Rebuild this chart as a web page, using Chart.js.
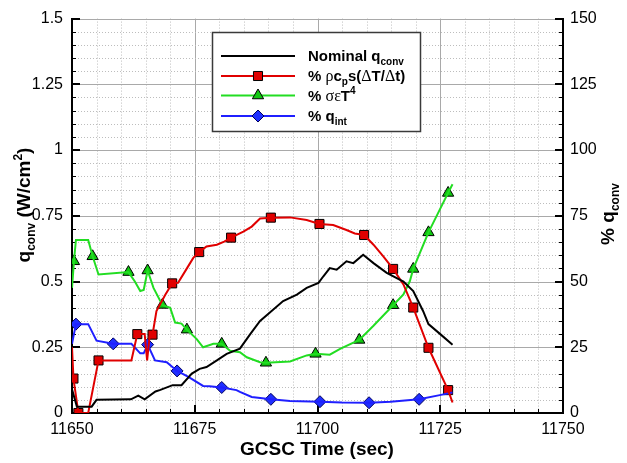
<!DOCTYPE html>
<html>
<head>
<meta charset="utf-8">
<script src="https://cdn.jsdelivr.net/npm/chart.js@4.4.1/dist/chart.umd.min.js"></script>
<style>
  html, body { margin: 0; padding: 0; background: #fff; }
  #wrap { width: 627px; height: 463px; }
</style>
</head>
<body>
<div id="wrap"><canvas id="chartHeat" width="627" height="463"></canvas></div>
<script>
    // Nominal convective heat flux (W/cm^2) vs GCSC time (sec)
    const nominalTime = [11650, 11651, 11654, 11655, 11662, 11663.5, 11664.8, 11667, 11668, 11670.5, 11672.3,
        11674.4, 11676, 11677.4, 11679.5, 11681.5, 11684.2, 11686.3, 11688.3, 11690.3, 11693, 11695.8,
        11697.8, 11700.2, 11701.2, 11702.5, 11703.9, 11705.9, 11707.3, 11709.3, 11711.4, 11714.1, 11717.5,
        11719.5, 11721.5, 11722.6, 11725, 11727.5];
    const nominalQ = [0.09, 0.024, 0.024, 0.05, 0.052, 0.066, 0.052, 0.082, 0.088, 0.106, 0.106,
        0.15, 0.168, 0.175, 0.2, 0.225, 0.245, 0.3, 0.35, 0.382, 0.426, 0.45,
        0.476, 0.495, 0.52, 0.551, 0.545, 0.577, 0.57, 0.602, 0.57, 0.533, 0.5,
        0.464, 0.388, 0.338, 0.3, 0.26];

    // % rho*cp*s*(dT/dt)
    const storageTime = [11650, 11650.3, 11651.3, 11653.3, 11655.4, 11662.1, 11663.3, 11664.8, 11665.3, 11665.8,
        11666.4, 11667.2, 11669, 11670.4, 11671.6, 11673.4, 11674.7, 11675.9, 11677.4, 11679.5, 11681,
        11682.4, 11684.9, 11686.6, 11688.3, 11690.5, 11694.4, 11697.8, 11700.4, 11703.2, 11705.9, 11707.6,
        11709.5, 11711.4, 11713.4, 11715.4, 11717.5, 11719.5, 11722.6, 11726.6, 11727.5];
    const storagePct = [25, 13.1, 0, 0, 20, 20, 30, 30, 20, 29,
        29.8, 38.8, 45, 49.3, 49.5, 55, 59, 61.2, 63.3, 64, 65.2,
        66.7, 69, 70.9, 74, 74.3, 74.4, 73.4, 71.9, 71.5, 69.6, 68.3,
        67.7, 64, 59.6, 54.8, 48.9, 40.1, 24.8, 8.7, 4];
    const storageMarkTime = [11650.3, 11651.3, 11655.4, 11663.3, 11666.4, 11670.4, 11675.9, 11682.4,
        11690.5, 11700.4, 11709.5, 11715.4, 11719.5, 11722.6, 11726.6];
    const storageMarkPct = [13.1, 0, 20, 30, 29.8, 49.3, 61.2, 66.7, 74.3, 71.9, 67.7, 54.8, 40.1, 24.8, 8.7];

    // % sigma*eps*T^4
    const radTime = [11650, 11650.4, 11650.8, 11653.3, 11654.2, 11655.4, 11661.5, 11662.8, 11663.9, 11664.6,
        11665.4, 11666.6, 11668.4, 11670, 11671, 11672.3, 11673.4, 11675.4, 11676.7, 11678.8, 11680.5,
        11682.2, 11684.2, 11685.6, 11688.3, 11689.5, 11694.4, 11697.8, 11699.6, 11702.5, 11704.6, 11708.5,
        11711.4, 11715.4, 11717.5, 11718.8, 11719.5, 11722.6, 11726.6, 11727.5];
    const radPct = [47.6, 57.7, 65.8, 65.8, 59.6, 52.7, 53.6, 50, 46.4, 46.8,
        54.2, 47.6, 41.1, 40, 34.4, 34, 31.7, 28.1, 25, 26.3, 26.3,
        23.7, 23.1, 21.2, 19.3, 19.1, 19.6, 21.9, 22.5, 22.2, 24.4, 27.8,
        33.2, 41, 45.1, 50.1, 54.8, 68.7, 83.7, 87];
    const radMarkTime = [11650.4, 11654.2, 11661.5, 11665.4, 11668.4, 11673.4, 11680.5, 11689.5,
        11699.6, 11708.5, 11715.4, 11719.5, 11722.6, 11726.6];
    const radMarkPct = [57.7, 59.6, 53.6, 54.2, 41.1, 31.7, 26.3, 19.1, 22.5, 27.8, 41, 54.8, 68.7, 83.7];

    // % q_int
    const intTime = [11650, 11650.8, 11653.3, 11655, 11658.4, 11662.1, 11663.9, 11664.6, 11665.4, 11666.9,
        11669.3, 11671.4, 11673.7, 11676.7, 11678, 11680.5, 11683.5, 11684.2, 11686.6, 11690.5, 11694.4,
        11700.5, 11705, 11710.5, 11714.9, 11720.7, 11724.9, 11727.5];
    const intPct = [26.3, 33.8, 33.8, 27.5, 26.3, 26.3, 22.7, 22.7, 26, 20,
        19.3, 16, 13.7, 10.3, 10.2, 9.7, 8.7, 8, 6.1, 5.2, 4.6,
        4.3, 4.0, 3.9, 4.3, 5.2, 6.8, 7.8];
    const intMarkTime = [11650.8, 11658.4, 11665.4, 11671.4, 11680.5, 11690.5, 11700.5, 11710.5, 11720.7];
    const intMarkPct = [33.8, 26.3, 26, 16, 9.7, 5.2, 4.3, 3.9, 5.2];

    const SANS = '"Liberation Sans", Arial, Helvetica, sans-serif';
    const SERIF = '"Liberation Serif", "Times New Roman", serif';

    const RED = '#e00000';
    const GREEN = '#22dd22';
    const BLUE = '#1f1fff';

    function pts(xs, ys) {
        return xs.map((x, i) => ({ x: x, y: ys[i] }));
    }

    function lineSet(xs, ys, color, axis) {
        return {
            data: pts(xs, ys),
            yAxisID: axis,
            borderColor: color,
            borderWidth: 2,
            pointRadius: 0,
            fill: false,
            tension: 0,
        };
    }

    function markerSet(xs, ys, style, fill, edge, radius) {
        return {
            data: pts(xs, ys),
            yAxisID: 'y1',
            showLine: false,
            pointStyle: style,
            pointRadius: radius,
            pointBackgroundColor: fill,
            pointBorderColor: edge,
            pointBorderWidth: 1,
        };
    }

    // draw text made of pieces (subscripts, greek letters) left to right
    function richWidth(ctx, parts) {
        let w = 0;
        for (const p of parts) { ctx.font = p.f; w += ctx.measureText(p.s).width; }
        return w;
    }
    function drawRich(ctx, parts, x, y) {
        for (const p of parts) {
            ctx.font = p.f;
            ctx.fillText(p.s, x, y + (p.dy || 0));
            x += ctx.measureText(p.s).width;
        }
    }

    const gridAndTicks = {
        id: 'gridAndTicks',
        beforeDatasetsDraw(chart) {
            const { ctx, chartArea: a, scales } = chart;
            const xs = scales.x, ys = scales.y;
            ctx.save();
            // minor grid dotted, major grid solid
            for (let i = 0; i <= 20; i++) {
                const px = Math.round(xs.getPixelForValue(xs.min + i * 5)) + 0.5;
                if (i === 0 || i === 20) continue;
                ctx.beginPath();
                if (i % 5 === 0) { ctx.setLineDash([]); ctx.strokeStyle = '#a9a9a9'; }
                else { ctx.setLineDash([1, 2]); ctx.strokeStyle = '#bdbdbd'; }
                ctx.lineWidth = 1;
                ctx.moveTo(px, a.top);
                ctx.lineTo(px, a.bottom);
                ctx.stroke();
            }
            for (let i = 1; i <= 30; i++) {
                const py = Math.round(ys.getPixelForValue(i * 0.05)) + 0.5;
                ctx.beginPath();
                if (i % 5 === 0) { ctx.setLineDash([]); ctx.strokeStyle = '#a9a9a9'; }
                else { ctx.setLineDash([1, 2]); ctx.strokeStyle = '#bdbdbd'; }
                ctx.lineWidth = 1;
                ctx.moveTo(a.left, py);
                ctx.lineTo(a.right, py);
                ctx.stroke();
            }
            ctx.setLineDash([]);
            ctx.strokeStyle = '#000';
            // inward tick marks
            for (let i = 1; i < 20; i++) {
                const major = i % 5 === 0;
                const px = Math.round(xs.getPixelForValue(xs.min + i * 5)) + (major ? 0 : 0.5);
                ctx.lineWidth = major ? 2 : 1;
                ctx.beginPath();
                ctx.moveTo(px, a.bottom);
                ctx.lineTo(px, a.bottom - (major ? 8 : 4));
                ctx.stroke();
            }
            for (let i = 1; i <= 30; i++) {
                const major = i % 5 === 0;
                const py = Math.round(ys.getPixelForValue(i * 0.05)) + (major ? 0 : 0.5);
                const len = major ? 8 : 4;
                ctx.lineWidth = major ? 2 : 1;
                ctx.beginPath();
                ctx.moveTo(a.left, py);
                ctx.lineTo(a.left + len, py);
                ctx.moveTo(a.right, py);
                ctx.lineTo(a.right - len, py);
                ctx.stroke();
            }
            ctx.restore();
        }
    };

    const titlesAndLegend = {
        id: 'titlesAndLegend',
        afterDatasetsDraw(chart) {
            const ctx = chart.ctx;
            const B = 'bold 15px ' + SANS;
            const Bs = 'bold 10px ' + SANS;
            const G = '16px ' + SERIF;
            ctx.save();

            // legend box
            ctx.fillStyle = '#fff';
            ctx.fillRect(212, 32, 209, 100);
            ctx.strokeStyle = '#3a3a3a';
            ctx.lineWidth = 1.5;
            ctx.strokeRect(212.5, 32.5, 208, 99);

            const rows = [
                { y: 56, color: '#000', marker: null,
                  text: [{ s: 'Nominal q', f: B }, { s: 'conv', f: Bs, dy: 4 }] },
                { y: 76, color: RED, marker: { pointStyle: 'rect', radius: 6.4, fill: RED, edge: '#000' },
                  text: [{ s: '% ', f: B }, { s: 'ρ', f: G }, { s: 'c', f: B }, { s: 'p', f: Bs, dy: 4 },
                         { s: 's(', f: B }, { s: 'Δ', f: G }, { s: 'T/', f: B }, { s: 'Δ', f: G }, { s: 't)', f: B }] },
                { y: 95.5, color: GREEN, marker: { pointStyle: 'triangle', radius: 6.5, fill: '#10c810', edge: '#000' },
                  text: [{ s: '% ', f: B }, { s: 'σε', f: G }, { s: 'T', f: B }, { s: '4', f: Bs, dy: -7 }] },
                { y: 116, color: BLUE, marker: { pointStyle: 'rectRot', radius: 6, fill: '#1f2fff', edge: '#000060' },
                  text: [{ s: '% q', f: B }, { s: 'int', f: Bs, dy: 4 }] },
            ];
            for (const r of rows) {
                ctx.strokeStyle = r.color;
                ctx.lineWidth = 2;
                ctx.beginPath();
                ctx.moveTo(221, r.y);
                ctx.lineTo(295, r.y);
                ctx.stroke();
                if (r.marker) {
                    ctx.fillStyle = r.marker.fill;
                    ctx.strokeStyle = r.marker.edge;
                    ctx.lineWidth = 1;
                    Chart.helpers.drawPoint(ctx, { pointStyle: r.marker.pointStyle, radius: r.marker.radius, borderWidth: 1 }, 258, r.y);
                }
                ctx.fillStyle = '#000';
                ctx.textBaseline = 'alphabetic';
                ctx.textAlign = 'left';
                drawRich(ctx, r.text, 308, r.y + 5);
            }

            // axis titles
            const T = 'bold 19px ' + SANS;
            const Ts = 'bold 12px ' + SANS;
            ctx.fillStyle = '#000';
            ctx.textAlign = 'center';
            ctx.textBaseline = 'middle';
            ctx.font = T;
            ctx.fillText('GCSC Time (sec)', 317, 450);

            ctx.textAlign = 'left';
            ctx.textBaseline = 'alphabetic';
            const leftTitle = [{ s: 'q', f: T }, { s: 'conv', f: Ts, dy: 5 }, { s: ' (W/cm', f: T },
                               { s: '2', f: Ts, dy: -8 }, { s: ')', f: T }];
            ctx.save();
            ctx.translate(30, 205);
            ctx.rotate(-Math.PI / 2);
            drawRich(ctx, leftTitle, -richWidth(ctx, leftTitle) / 2, 0);
            ctx.restore();

            const rightTitle = [{ s: '% q', f: T }, { s: 'conv', f: Ts, dy: 5 }];
            ctx.save();
            ctx.translate(614, 214);
            ctx.rotate(-Math.PI / 2);
            drawRich(ctx, rightTitle, -richWidth(ctx, rightTitle) / 2, 0);
            ctx.restore();

            ctx.restore();
        }
    };

    const tickFont = { family: SANS, size: 16 };

    new Chart(document.getElementById('chartHeat').getContext('2d'), {
        type: 'line',
        data: {
            datasets: [
                lineSet(nominalTime, nominalQ, '#000', 'y'),
                lineSet(storageTime, storagePct, RED, 'y1'),
                lineSet(radTime, radPct, GREEN, 'y1'),
                lineSet(intTime, intPct, BLUE, 'y1'),
                markerSet(storageMarkTime, storageMarkPct, 'rect', RED, '#000', 6.4),
                markerSet(radMarkTime, radMarkPct, 'triangle', '#10c810', '#000', 6.5),
                markerSet(intMarkTime, intMarkPct, 'rectRot', '#1f2fff', '#000060', 6),
            ]
        },
        options: {
            responsive: false,
            animation: false,
            devicePixelRatio: 1,
            layout: { padding: { top: 15, left: 0, right: 0, bottom: 0 } },
            plugins: { legend: { display: false }, tooltip: { enabled: false } },
            scales: {
                x: {
                    type: 'linear',
                    position: 'bottom',
                    min: 11650,
                    max: 11750,
                    ticks: { stepSize: 25, color: '#000', font: tickFont, padding: 7, maxRotation: 0,
                             callback: v => String(v) },
                    grid: { display: false, drawTicks: false },
                    border: { display: true, color: '#000', width: 2 },
                    afterFit: s => { s.height = 50; },
                },
                y: {
                    position: 'left',
                    min: 0,
                    max: 1.5,
                    ticks: { stepSize: 0.25, color: '#000', font: tickFont, padding: 9,
                             callback: v => String(+v.toFixed(2)) },
                    grid: { display: false, drawTicks: false },
                    border: { display: true, color: '#000', width: 2 },
                    afterFit: s => { s.width = 72; },
                },
                y1: {
                    position: 'right',
                    min: 0,
                    max: 150,
                    ticks: { stepSize: 25, color: '#000', font: tickFont, padding: 7,
                             callback: v => String(v) },
                    grid: { display: false, drawTicks: false },
                    border: { display: true, color: '#000', width: 2 },
                    afterFit: s => { s.width = 64; },
                },
            }
        },
        plugins: [gridAndTicks, titlesAndLegend]
    });
</script>
</body>
</html>
